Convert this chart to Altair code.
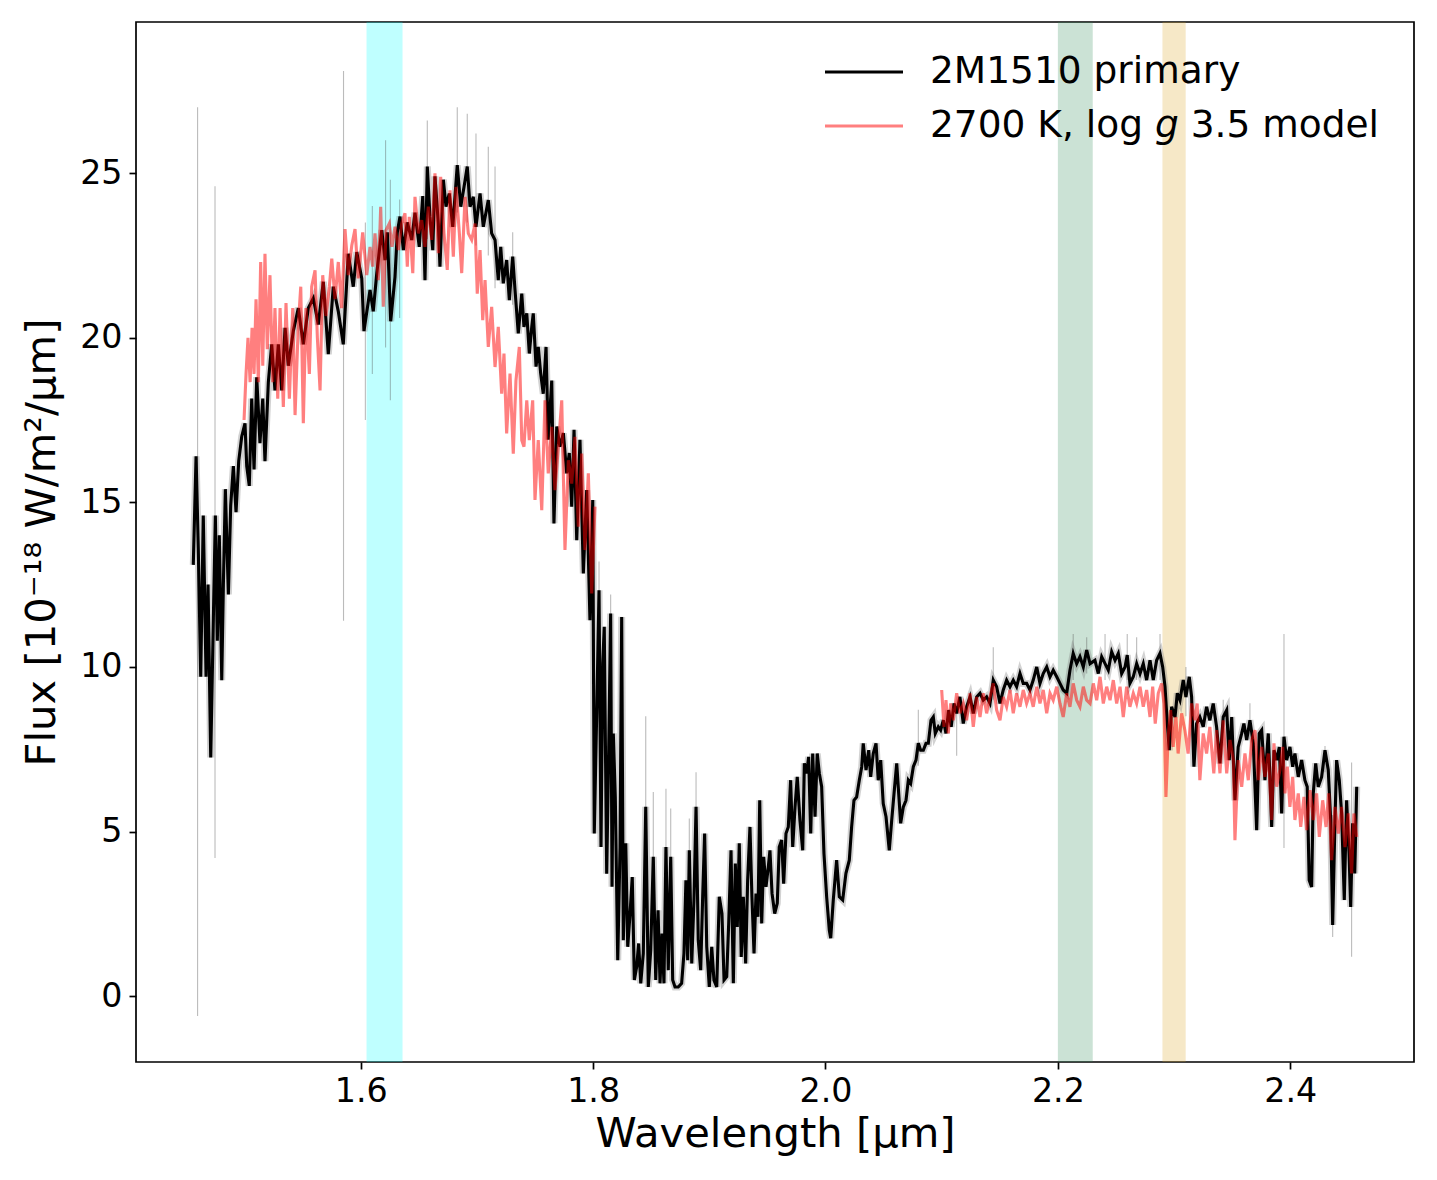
import altair as alt
import pandas as pd

# ---------------------------------------------------------------------------
# Observed spectrum of the 2M1510 primary: (wavelength [um], flux [1e-18 W/m2/um])
# ---------------------------------------------------------------------------
PRIMARY_H_BLUE = [
    (1.4559, 13.1), (1.4583, 16.4), (1.4602, 13.6), (1.4623, 9.7), (1.4645, 14.6),
    (1.4669, 9.7), (1.4686, 12.5), (1.4709, 7.25), (1.4732, 11.5), (1.4749, 14.6),
    (1.4766, 10.8), (1.4783, 14.0), (1.4804, 9.6), (1.4818, 12.5), (1.4835, 15.4),
    (1.4861, 12.2), (1.4881, 14.9), (1.4904, 16.1), (1.4927, 14.7), (1.4950, 16.25),
    (1.4976, 17.0), (1.5004, 17.4), (1.5019, 16.1), (1.5041, 15.5), (1.5062, 18.15),
    (1.5082, 16.0), (1.5105, 18.8), (1.5133, 16.8), (1.5157, 18.15), (1.5176, 16.25),
    (1.5205, 18.65), (1.5234, 19.8), (1.5262, 18.4), (1.5291, 19.8), (1.5320, 18.4),
    (1.5349, 20.3), (1.5377, 19.15), (1.5420, 20.2), (1.5463, 20.9), (1.5506, 19.8),
    (1.5549, 20.9), (1.5592, 21.2), (1.5635, 20.4), (1.5678, 21.7), (1.5721, 19.5),
    (1.5764, 21.55), (1.5807, 20.8), (1.5850, 19.8), (1.5893, 22.55), (1.5936, 21.55),
    (1.5966, 22.6), (1.6009, 21.8), (1.6028, 20.2),
]
PRIMARY_H_RED = [
    (1.6080, 21.45), (1.6108, 20.8), (1.6138, 21.95), (1.6181, 23.27), (1.6209, 22.36),
    (1.6229, 23.2), (1.6258, 20.5), (1.6295, 21.85), (1.6315, 23.2), (1.6338, 23.68),
    (1.6367, 22.66), (1.6401, 23.5), (1.6439, 22.97), (1.6467, 23.8), (1.6504, 22.76),
    (1.6534, 24.3), (1.6553, 21.75), (1.6573, 25.2), (1.6596, 23.67), (1.6620, 22.66),
    (1.6639, 24.9), (1.6668, 23.47), (1.6682, 22.16), (1.6711, 24.8), (1.6734, 23.98),
    (1.6762, 24.38), (1.6792, 23.37), (1.6831, 25.24), (1.6861, 23.98), (1.6889, 24.58),
    (1.6917, 25.2), (1.6941, 23.98), (1.6969, 24.28), (1.6992, 23.37), (1.7027, 24.38),
    (1.7055, 23.37), (1.7098, 24.18), (1.7127, 23.17), (1.7156, 22.97), (1.7184, 21.75),
    (1.7205, 22.76), (1.7227, 21.65), (1.7256, 22.36), (1.7279, 21.14), (1.7308, 22.46),
    (1.7328, 21.45), (1.7356, 20.13), (1.7386, 21.34), (1.7405, 20.33), (1.7429, 20.74),
    (1.7451, 19.52), (1.7472, 20.33), (1.7485, 20.74), (1.7509, 19.12), (1.7528, 19.72),
    (1.7549, 18.91), (1.7571, 18.3), (1.7595, 19.72), (1.7614, 16.9), (1.7644, 18.7),
    (1.7663, 14.36), (1.7687, 17.3), (1.7715, 16.69), (1.7744, 17.1), (1.7773, 15.88),
    (1.7795, 16.5), (1.7816, 14.87), (1.7836, 17.2), (1.7859, 13.85), (1.7887, 16.9),
    (1.7916, 12.84), (1.7945, 15.37), (1.7973, 11.42), (1.7997, 15.07),
]
PRIMARY_WATER = [
    (1.8010, 4.94), (1.8031, 8.59), (1.8051, 12.33), (1.8068, 4.53), (1.8083, 10.1),
    (1.8096, 11.22), (1.8117, 3.72), (1.8134, 7.37), (1.8151, 11.62), (1.8163, 3.32),
    (1.8174, 7.98), (1.8191, 6.05), (1.8212, 1.09), (1.8232, 4.53), (1.8246, 11.52),
    (1.8260, 1.7), (1.8281, 4.64), (1.8298, 1.5), (1.8318, 2.51), (1.8337, 3.62),
    (1.8355, 0.49), (1.8375, 0.89), (1.8392, 1.6), (1.8410, 0.39), (1.8432, 1.3),
    (1.8453, 5.75), (1.8475, 0.28), (1.8496, 1.4), (1.8518, 4.23), (1.8539, 0.49),
    (1.8559, 2.61), (1.8576, 0.39), (1.8593, 1.9), (1.8610, 0.39), (1.8627, 4.53),
    (1.8647, 0.79), (1.8668, 4.23), (1.8685, 0.49), (1.8705, 0.28), (1.8733, 0.28),
    (1.8762, 0.39), (1.8782, 1.3), (1.8799, 3.52), (1.8814, 1.09), (1.8828, 4.43),
    (1.8849, 0.99), (1.8868, 2.92), (1.8886, 5.75), (1.8905, 1.7), (1.8926, 0.79),
    (1.8943, 3.02), (1.8960, 4.94), (1.8978, 1.5), (1.9000, 0.28), (1.9021, 1.5),
    (1.9040, 0.49), (1.9064, 0.28), (1.9086, 3.02), (1.9109, 2.51), (1.9127, 0.49),
    (1.9150, 0.59), (1.9167, 2.21), (1.9187, 4.43), (1.9207, 0.39), (1.9224, 4.03),
    (1.9241, 2.1), (1.9258, 4.64), (1.9275, 1.19), (1.9293, 3.02), (1.9313, 0.99),
    (1.9330, 3.52), (1.9350, 5.14), (1.9367, 3.02), (1.9385, 1.3), (1.9402, 3.12),
    (1.9419, 2.41), (1.9434, 5.95), (1.9451, 2.21), (1.9468, 4.23), (1.9488, 3.32),
    (1.9508, 3.93), (1.9522, 4.43), (1.9540, 3.12), (1.9563, 2.51), (1.9585, 2.82),
    (1.9602, 4.53), (1.9623, 4.74), (1.9640, 3.42), (1.9660, 4.94), (1.9680, 5.14),
    (1.9700, 6.56), (1.9718, 4.53), (1.9738, 5.75), (1.9757, 6.66), (1.9780, 5.35),
    (1.9804, 4.43), (1.9818, 7.07), (1.9838, 6.77), (1.9855, 7.27), (1.9873, 4.94),
    (1.9890, 7.37), (1.9910, 5.45), (1.9929, 7.37), (1.9947, 6.77), (1.9967, 6.36),
    (1.9987, 4.33), (2.0010, 3.02), (2.0033, 2.0),
]
PRIMARY_K_BLUE = [
    (2.0045, 1.76), (2.0067, 2.92), (2.0096, 4.13), (2.0119, 3.02), (2.0148, 2.92),
    (2.0176, 3.73), (2.0205, 4.13), (2.0225, 5.14), (2.0245, 5.95), (2.0268, 6.05),
    (2.0291, 6.56), (2.0312, 6.97), (2.0325, 7.68), (2.0349, 6.87), (2.0372, 7.47),
    (2.0389, 6.66), (2.0411, 7.37), (2.0435, 7.68), (2.0454, 6.56), (2.0475, 7.17),
    (2.0497, 5.85), (2.0521, 5.45), (2.0549, 4.43), (2.0570, 5.35), (2.0590, 6.16),
    (2.0613, 7.07), (2.0630, 6.16), (2.0647, 5.25), (2.0670, 5.75), (2.0693, 5.95),
    (2.0713, 6.56), (2.0733, 6.46), (2.0756, 6.97), (2.0779, 7.17), (2.0799, 7.68),
    (2.0819, 7.47), (2.0842, 7.47), (2.0865, 7.68), (2.0885, 7.68), (2.0908, 8.38),
    (2.0928, 8.48), (2.0945, 7.98), (2.0971, 8.18), (2.0991, 8.08), (2.1014, 8.38),
    (2.1037, 7.98), (2.1060, 8.69), (2.1082, 8.18), (2.1106, 8.89), (2.1129, 8.59),
    (2.1157, 9.09), (2.1186, 8.28), (2.1215, 8.79), (2.1244, 9.09), (2.1272, 8.59),
    (2.1301, 9.09), (2.1330, 9.2), (2.1358, 8.99), (2.1387, 9.09), (2.1416, 8.89),
    (2.1444, 9.6), (2.1473, 9.4), (2.1502, 8.89), (2.1530, 9.3), (2.1559, 9.6),
    (2.1588, 9.4), (2.1616, 9.6), (2.1645, 9.4), (2.1674, 9.8), (2.1702, 9.5),
    (2.1731, 9.5), (2.1760, 9.3), (2.1788, 9.6), (2.1818, 10.0), (2.1846, 9.5),
    (2.1874, 9.8), (2.1904, 10.0), (2.1932, 9.7), (2.1960, 9.9), (2.1990, 9.7),
    (2.2018, 9.5), (2.2046, 9.3), (2.2076, 9.2), (2.2104, 9.9), (2.2132, 10.41),
    (2.2162, 10.1), (2.2190, 10.31), (2.2219, 10.0), (2.2248, 10.51), (2.2277, 10.1),
]
PRIMARY_K_RED = [
    (2.2319, 10.2), (2.2348, 9.8), (2.2377, 10.31), (2.2406, 10.1), (2.2434, 9.9),
    (2.2463, 10.46), (2.2492, 10.2), (2.2520, 10.41), (2.2549, 9.8), (2.2578, 10.0),
    (2.2597, 10.36), (2.2620, 9.5), (2.2649, 9.7), (2.2678, 10.1), (2.2707, 9.8),
    (2.2735, 10.1), (2.2764, 9.6), (2.2793, 10.2), (2.2821, 9.6), (2.2850, 10.2),
    (2.2879, 10.41), (2.2902, 10.0), (2.2922, 9.4), (2.2942, 8.28), (2.2959, 7.47),
    (2.2979, 8.79), (2.3008, 8.48), (2.3028, 9.2), (2.3051, 8.99), (2.3079, 9.6),
    (2.3102, 9.09), (2.3131, 9.7), (2.3151, 9.09), (2.3171, 6.97), (2.3194, 8.28),
    (2.3222, 8.48), (2.3251, 8.18), (2.3280, 8.79), (2.3308, 8.38), (2.3337, 8.89),
    (2.3366, 8.18), (2.3395, 7.07), (2.3423, 8.48), (2.3453, 8.69), (2.3475, 7.17),
    (2.3496, 8.48), (2.3524, 5.95), (2.3552, 7.57), (2.3582, 7.98), (2.3601, 8.28),
    (2.3625, 7.78), (2.3653, 8.38), (2.3682, 7.68), (2.3711, 5.04), (2.3733, 7.98),
    (2.3754, 8.08), (2.3782, 6.56), (2.3811, 7.98), (2.3840, 5.14), (2.3860, 7.47),
    (2.3883, 7.17), (2.3906, 7.57), (2.3926, 5.55), (2.3946, 7.88), (2.3969, 7.17),
    (2.3997, 7.57), (2.4021, 6.97), (2.4040, 7.37), (2.4069, 6.66), (2.4098, 7.17),
    (2.4126, 6.56), (2.4146, 6.36), (2.4163, 3.52), (2.4184, 3.32), (2.4198, 6.16),
    (2.4219, 7.07), (2.4241, 6.36), (2.4270, 6.66), (2.4299, 7.47), (2.4327, 6.87),
    (2.4348, 5.35), (2.4365, 2.16), (2.4385, 5.35), (2.4399, 7.17), (2.4422, 6.56),
    (2.4442, 5.55), (2.4465, 2.92), (2.4485, 5.95), (2.4506, 4.33), (2.4520, 2.71),
    (2.4537, 5.25), (2.4555, 3.73), (2.4572, 6.36),
]

# ---------------------------------------------------------------------------
# 2700 K, log g 3.5 model spectrum, H and K windows
# ---------------------------------------------------------------------------
MODEL_H = [
    (1.4996, 17.5), (1.5013, 18.9), (1.5030, 20.0), (1.5048, 18.65), (1.5065, 20.3),
    (1.5082, 18.9), (1.5099, 21.17), (1.5119, 18.65), (1.5139, 22.3), (1.5157, 19.15),
    (1.5176, 22.55), (1.5196, 19.65), (1.5219, 21.9), (1.5243, 18.65), (1.5262, 20.9),
    (1.5286, 18.15), (1.5306, 20.9), (1.5334, 17.9), (1.5357, 21.05), (1.5386, 18.15),
    (1.5415, 20.9), (1.5435, 17.65), (1.5463, 20.4), (1.5484, 21.55), (1.5506, 17.4),
    (1.5529, 20.9), (1.5558, 18.9), (1.5578, 21.55), (1.5607, 22.05), (1.5627, 20.0),
    (1.5650, 18.4), (1.5673, 21.9), (1.5701, 20.66), (1.5730, 21.55), (1.5751, 22.4),
    (1.5779, 21.17), (1.5807, 22.3), (1.5836, 20.9), (1.5865, 23.3), (1.5893, 21.9),
    (1.5923, 22.8), (1.5951, 23.3), (1.5979, 21.8), (1.6017, 23.2), (1.6052, 21.9),
    (1.6080, 22.76), (1.6103, 22.16), (1.6123, 23.17), (1.6151, 21.75), (1.6172, 23.98),
    (1.6194, 20.94), (1.6218, 23.27), (1.6246, 23.47), (1.6269, 22.76), (1.6295, 23.37),
    (1.6324, 22.66), (1.6353, 23.47), (1.6381, 23.78), (1.6401, 22.16), (1.6418, 23.67),
    (1.6448, 21.96), (1.6467, 24.28), (1.6496, 23.17), (1.6525, 23.57), (1.6553, 22.76),
    (1.6582, 23.98), (1.6611, 22.97), (1.6639, 24.99), (1.6668, 22.57), (1.6688, 24.89),
    (1.6717, 23.17), (1.6745, 22.06), (1.6768, 24.48), (1.6797, 22.46), (1.6820, 24.58),
    (1.6849, 23.17), (1.6869, 21.96), (1.6898, 24.28), (1.6926, 23.17), (1.6955, 22.97),
    (1.6984, 23.47), (1.7003, 21.34), (1.7027, 22.66), (1.7050, 20.53), (1.7070, 21.75),
    (1.7098, 19.72), (1.7127, 20.94), (1.7156, 19.11), (1.7184, 20.33), (1.7213, 18.3),
    (1.7233, 19.52), (1.7256, 17.09), (1.7285, 18.91), (1.7313, 16.48), (1.7336, 18.7),
    (1.7365, 19.72), (1.7386, 16.89), (1.7405, 16.69), (1.7429, 18.1), (1.7451, 16.89),
    (1.7480, 18.1), (1.7500, 15.07), (1.7528, 16.89), (1.7558, 14.76), (1.7586, 18.1),
    (1.7614, 15.88), (1.7644, 17.29), (1.7672, 15.37), (1.7701, 16.69), (1.7730, 18.1),
    (1.7758, 13.55), (1.7787, 16.28), (1.7816, 15.57), (1.7844, 16.99), (1.7873, 14.26),
    (1.7902, 16.48), (1.7930, 13.55), (1.7959, 15.88), (1.7988, 12.23), (1.8016, 14.87),
]
MODEL_K = [
    (2.1000, 9.3), (2.1020, 8.18), (2.1037, 8.99), (2.1057, 7.98), (2.1077, 8.89),
    (2.1100, 8.38), (2.1129, 9.2), (2.1157, 8.59), (2.1186, 8.89), (2.1215, 8.38),
    (2.1244, 9.2), (2.1272, 8.18), (2.1301, 9.09), (2.1330, 8.48), (2.1358, 9.2),
    (2.1387, 8.59), (2.1416, 9.09), (2.1444, 9.5), (2.1473, 8.69), (2.1502, 8.38),
    (2.1530, 9.09), (2.1559, 8.79), (2.1588, 9.3), (2.1616, 8.59), (2.1645, 9.2),
    (2.1674, 8.79), (2.1702, 9.3), (2.1731, 8.89), (2.1760, 9.2), (2.1788, 8.79),
    (2.1818, 9.4), (2.1846, 8.89), (2.1874, 9.3), (2.1904, 8.59), (2.1932, 9.2),
    (2.1960, 8.99), (2.1990, 9.4), (2.2018, 8.89), (2.2046, 8.48), (2.2076, 9.2),
    (2.2104, 8.79), (2.2132, 9.5), (2.2162, 8.99), (2.2190, 8.79), (2.2219, 9.4),
    (2.2248, 8.99), (2.2277, 8.89), (2.2305, 9.5), (2.2334, 8.99), (2.2363, 9.7),
    (2.2391, 8.89), (2.2420, 9.4), (2.2449, 8.99), (2.2477, 9.6), (2.2506, 8.89),
    (2.2535, 9.4), (2.2563, 8.48), (2.2592, 9.4), (2.2620, 8.79), (2.2649, 9.2),
    (2.2678, 8.89), (2.2707, 9.4), (2.2735, 8.79), (2.2764, 9.3), (2.2793, 8.48),
    (2.2816, 9.4), (2.2838, 8.28), (2.2864, 9.2), (2.2893, 9.5), (2.2913, 8.89),
    (2.2930, 6.05), (2.2949, 7.88), (2.2970, 8.69), (2.2992, 7.57), (2.3016, 8.48),
    (2.3035, 7.37), (2.3065, 8.59), (2.3093, 8.08), (2.3121, 7.37), (2.3151, 8.89),
    (2.3179, 8.38), (2.3199, 8.89), (2.3222, 6.56), (2.3251, 7.98), (2.3280, 7.37),
    (2.3308, 8.18), (2.3342, 6.77), (2.3366, 8.08), (2.3395, 6.77), (2.3423, 8.38),
    (2.3453, 6.77), (2.3481, 7.78), (2.3510, 7.17), (2.3524, 4.74), (2.3552, 7.17),
    (2.3582, 6.36), (2.3610, 7.37), (2.3639, 6.56), (2.3668, 7.78), (2.3696, 8.08),
    (2.3725, 6.56), (2.3754, 7.57), (2.3782, 6.66), (2.3811, 7.37), (2.3840, 5.35),
    (2.3860, 7.68), (2.3883, 6.36), (2.3911, 6.87), (2.3935, 7.57), (2.3955, 6.16),
    (2.3975, 6.97), (2.3997, 5.75), (2.4021, 6.66), (2.4040, 5.35), (2.4069, 6.16),
    (2.4090, 5.14), (2.4118, 6.05), (2.4141, 5.04), (2.4170, 6.26), (2.4198, 5.35),
    (2.4227, 6.16), (2.4250, 4.84), (2.4279, 5.95), (2.4308, 5.14), (2.4331, 6.16),
    (2.4356, 4.13), (2.4385, 5.75), (2.4414, 4.94), (2.4442, 5.75), (2.4471, 4.53),
    (2.4499, 5.55), (2.4528, 3.73), (2.4548, 5.55), (2.4572, 4.84),
]

# Largest excursions of the 1-sigma uncertainty envelope: (wavelength, low, high)
ERROR_SPIKES = [
    (1.4596, -0.6, 27.0), (1.4746, 4.2, 24.6), (1.5852, 11.4, 28.1),
    (1.6040, 17.5, 23.5), (1.6100, 18.9, 24.0), (1.6214, 19.7, 26.0),
    (1.6255, 18.1, 24.8), (1.6335, 20.6, 24.2), (1.6573, 23.0, 26.6),
    (1.6831, 23.8, 27.0), (1.6917, 23.5, 26.8), (1.6992, 22.8, 26.2),
    (1.7098, 22.5, 25.8), (1.7156, 21.5, 25.2), (1.7308, 21.0, 23.2),
    (1.8051, 11.0, 13.2), (1.8151, 10.0, 12.2), (1.8453, 4.0, 8.5),
    (1.8518, 3.0, 6.2), (1.8627, 3.0, 6.3), (1.8668, 3.0, 5.7),
    (1.8828, 3.0, 5.4), (1.8886, 4.0, 6.8), (2.0799, 7.0, 8.7),
    (2.1129, 7.3, 8.8), (2.1444, 9.0, 10.6), (2.2132, 9.6, 11.0),
    (2.2248, 9.8, 10.9), (2.2406, 9.6, 11.0), (2.2597, 9.6, 11.0),
    (2.2678, 9.6, 10.9), (2.2879, 9.6, 11.0), (2.3102, 8.5, 10.0),
    (2.3423, 8.0, 9.0), (2.3653, 7.8, 8.9), (2.3946, 4.5, 11.0),
    (2.4299, 6.8, 7.6), (2.4365, 1.8, 5.5), (2.4528, 1.2, 7.1),
]

# Highlighted wavelength windows: (start, end, colour)
BANDS = [
    (1.605, 1.636, "#00ffff"),
    (2.200, 2.230, "#2e8b57"),
    (2.290, 2.310, "#daa520"),
]

LEGEND_LABELS = ["2M1510 primary", "2700 K, log", "g", "3.5 model"]

# ---------------------------------------------------------------------------
W, H = 1278, 1040
FONT = "DejaVu Sans"
TICK_FS, LEGEND_FS, TITLE_FS = 33.3, 37.5, 41.7
LW = 3.1

primary = pd.DataFrame(
    PRIMARY_H_BLUE + PRIMARY_H_RED + PRIMARY_WATER + PRIMARY_K_BLUE + PRIMARY_K_RED,
    columns=["wl", "flux"],
)
model_h = pd.DataFrame(MODEL_H, columns=["wl", "flux"])
model_k = pd.DataFrame(MODEL_K, columns=["wl", "flux"])
spikes = pd.DataFrame(ERROR_SPIKES, columns=["wl", "lo", "hi"])
bands = pd.DataFrame(BANDS, columns=["x0", "x1", "color"])

xscale = alt.Scale(domain=[1.4066, 2.5065], nice=False, zero=False)
yscale = alt.Scale(domain=[-2.0, 29.59], nice=False, zero=False)

x_axis = alt.Axis(
    values=[1.6, 1.8, 2.0, 2.2, 2.4], format=".1f", grid=False, domain=False,
    tickSize=7, tickWidth=1.7, tickColor="black",
    labelFont=FONT, labelFontSize=TICK_FS, labelColor="black", labelPadding=6,
    title="Wavelength [μm]", titleFont=FONT, titleFontSize=TITLE_FS,
    titleFontWeight="normal", titleColor="black", titlePadding=6,
)
y_axis = alt.Axis(
    values=[0, 5, 10, 15, 20, 25], format="d", grid=False, domain=False,
    tickSize=7, tickWidth=1.7, tickColor="black",
    labelFont=FONT, labelFontSize=TICK_FS, labelColor="black", labelPadding=7,
    title="Flux [10⁻¹⁸ W/m²/μm]", titleFont=FONT, titleFontSize=TITLE_FS,
    titleFontWeight="normal", titleColor="black", titlePadding=16,
)

band_layer = alt.Chart(bands).mark_rect(opacity=0.25).encode(
    x=alt.X("x0:Q", scale=xscale, axis=x_axis),
    x2="x1:Q",
    y=alt.value(0),
    y2=alt.value(H),
    color=alt.Color("color:N", scale=None, legend=None),
)

# soft grey envelope around the observed spectrum
halo = alt.Chart(primary).mark_line(
    color="#7f7f7f", opacity=0.35, strokeWidth=7, clip=True
).encode(
    x=alt.X("wl:Q", scale=xscale),
    y=alt.Y("flux:Q", scale=yscale, axis=y_axis),
)

spike_layer = alt.Chart(spikes).mark_rule(
    color="#555555", opacity=0.4, strokeWidth=1.1, clip=True
).encode(
    x=alt.X("wl:Q", scale=xscale),
    y=alt.Y("lo:Q", scale=yscale),
    y2="hi:Q",
)

primary_line = alt.Chart(primary).mark_line(
    color="black", strokeWidth=LW, clip=True, strokeJoin="miter"
).encode(
    x=alt.X("wl:Q", scale=xscale),
    y=alt.Y("flux:Q", scale=yscale),
)


def model_line(df):
    return alt.Chart(df).mark_line(
        color="red", opacity=0.5, strokeWidth=LW, clip=True, strokeJoin="miter"
    ).encode(
        x=alt.X("wl:Q", scale=xscale),
        y=alt.Y("flux:Q", scale=yscale),
    )


# Legend, upper right
LEG_X0, LEG_X1, TXT_X = 689, 767, 794
ROW1, ROW2 = 50, 104
leg_black = alt.Chart(primary.head(1)).mark_rule(color="black", strokeWidth=LW).encode(
    x=alt.value(LEG_X0), x2=alt.value(LEG_X1), y=alt.value(ROW1)
)
leg_red = alt.Chart(primary.head(1)).mark_rule(color="red", opacity=0.5, strokeWidth=LW).encode(
    x=alt.value(LEG_X0), x2=alt.value(LEG_X1), y=alt.value(ROW2)
)


def leg_text(label, x, y, style="normal"):
    return alt.Chart(primary.head(1)).mark_text(
        text=label, align="left", baseline="middle", font=FONT,
        fontSize=LEGEND_FS, fontStyle=style, color="black",
    ).encode(x=alt.value(x), y=alt.value(y))


g_x = TXT_X + 5.997 * LEGEND_FS
rest_x = g_x + (0.635 + 0.318) * LEGEND_FS
legend = (
    leg_black + leg_red
    + leg_text(LEGEND_LABELS[0], TXT_X, ROW1)
    + leg_text(LEGEND_LABELS[1], TXT_X, ROW2)
    + leg_text(LEGEND_LABELS[2], g_x, ROW2, "italic")
    + leg_text(LEGEND_LABELS[3], rest_x, ROW2)
)

chart = alt.layer(
    band_layer, halo, spike_layer, primary_line, model_line(model_h), model_line(model_k), legend
).properties(
    width=W, height=H,
    autosize=alt.AutoSizeParams(type="none"),
    padding={"left": 136, "top": 22, "right": 23, "bottom": 118},
    background="white",
).configure(
    font=FONT
).configure_view(
    stroke="black", strokeWidth=1.7
)

chart.save("out.html", embed_options={"renderer": "svg", "actions": False})
